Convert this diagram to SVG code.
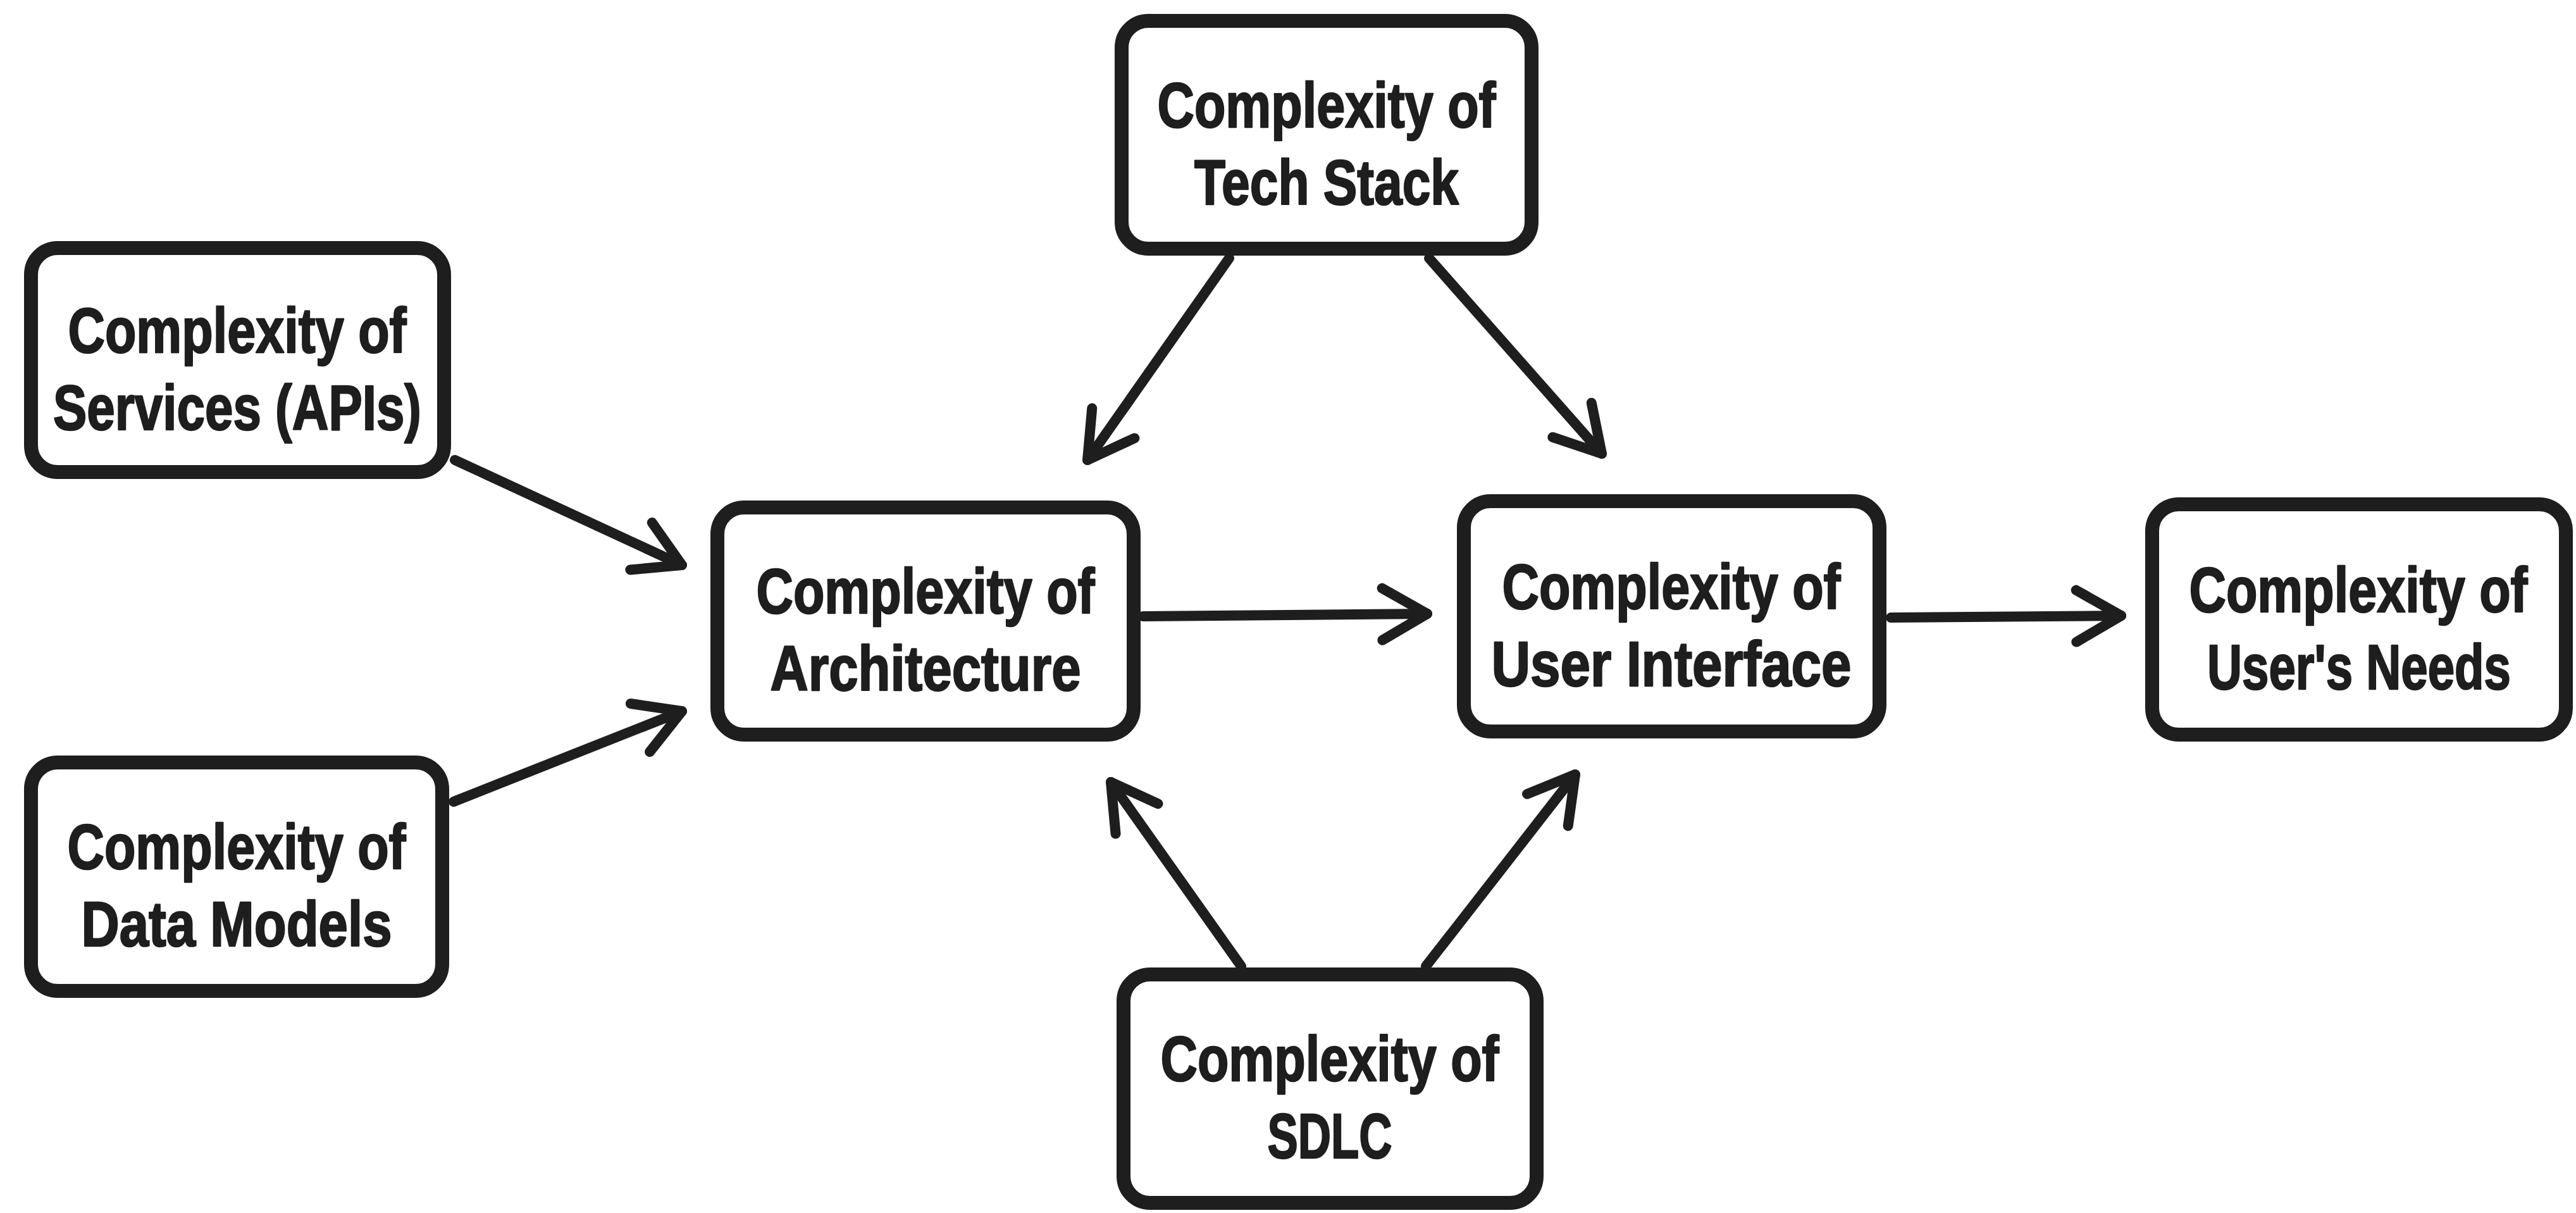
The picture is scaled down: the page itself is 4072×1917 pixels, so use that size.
<svg xmlns="http://www.w3.org/2000/svg" width="4072" height="1917" viewBox="0 0 4072 1917">
<style>
.box{fill:#ffffff;stroke:#1e1e1e;stroke-width:22;stroke-linejoin:round}
.lbl{font-family:"Liberation Sans Narrow","Liberation Sans",sans-serif;font-weight:bold;font-size:101px;fill:#1e1e1e;stroke:#1e1e1e;stroke-width:2.5;stroke-linejoin:round;text-anchor:middle}
.edge{fill:none;stroke:#1e1e1e;stroke-width:16;stroke-linecap:round;marker-end:url(#ah)}
</style>
<defs>
<marker id="ah" markerUnits="userSpaceOnUse" markerWidth="200" markerHeight="200" viewBox="-100 -100 200 200" refX="0" refY="0" orient="auto" overflow="visible">
<path d="M-71,-41 L0,0 L-71,41" fill="none" stroke="#1e1e1e" stroke-width="16" stroke-linecap="round" stroke-linejoin="round"/>
</marker>
</defs>
<rect width="4072" height="1917" fill="#ffffff"/>
<g id="connectors">
<line class="edge" x1="719" y1="727" x2="1078" y2="893"/>
<line class="edge" x1="717" y1="1267" x2="1078" y2="1124"/>
<line class="edge" x1="1943" y1="408" x2="1719" y2="727"/>
<line class="edge" x1="2259" y1="408" x2="2532" y2="717"/>
<line class="edge" x1="1807" y1="974" x2="2256" y2="970"/>
<line class="edge" x1="2989" y1="976" x2="3353" y2="973"/>
<line class="edge" x1="1962" y1="1527" x2="1756" y2="1236"/>
<line class="edge" x1="2254" y1="1527" x2="2490" y2="1224"/>
</g>
<g id="node-tech">
<rect class="box" x="1773" y="33" width="648" height="360" rx="42"/>
<text class="lbl" x="2097" y="201" textLength="535" lengthAdjust="spacingAndGlyphs">Complexity of</text>
<text class="lbl" x="2097" y="323" textLength="418" lengthAdjust="spacingAndGlyphs">Tech Stack</text>
</g>
<g id="node-services">
<rect class="box" x="49" y="392" width="653" height="354" rx="42"/>
<text class="lbl" x="375" y="557" textLength="535" lengthAdjust="spacingAndGlyphs">Complexity of</text>
<text class="lbl" x="375" y="679" textLength="582" lengthAdjust="spacingAndGlyphs">Services (APIs)</text>
</g>
<g id="node-architecture">
<rect class="box" x="1134" y="802" width="658" height="359" rx="42"/>
<text class="lbl" x="1463" y="969" textLength="535" lengthAdjust="spacingAndGlyphs">Complexity of</text>
<text class="lbl" x="1463" y="1091" textLength="491" lengthAdjust="spacingAndGlyphs">Architecture</text>
</g>
<g id="node-ui">
<rect class="box" x="2314" y="792" width="657" height="364" rx="42"/>
<text class="lbl" x="2642" y="962" textLength="535" lengthAdjust="spacingAndGlyphs">Complexity of</text>
<text class="lbl" x="2642" y="1084" textLength="569" lengthAdjust="spacingAndGlyphs">User Interface</text>
</g>
<g id="node-needs">
<rect class="box" x="3402" y="797" width="654" height="364" rx="42"/>
<text class="lbl" x="3728" y="967" textLength="535" lengthAdjust="spacingAndGlyphs">Complexity of</text>
<text class="lbl" x="3729" y="1089" textLength="480" lengthAdjust="spacingAndGlyphs">User's Needs</text>
</g>
<g id="node-data">
<rect class="box" x="49" y="1205" width="650" height="361" rx="42"/>
<text class="lbl" x="374" y="1373" textLength="535" lengthAdjust="spacingAndGlyphs">Complexity of</text>
<text class="lbl" x="374" y="1495" textLength="491" lengthAdjust="spacingAndGlyphs">Data Models</text>
</g>
<g id="node-sdlc">
<rect class="box" x="1776" y="1540" width="653" height="361" rx="42"/>
<text class="lbl" x="2102" y="1708" textLength="535" lengthAdjust="spacingAndGlyphs">Complexity of</text>
<text class="lbl" x="2102" y="1830" textLength="197" lengthAdjust="spacingAndGlyphs">SDLC</text>
</g>
</svg>
